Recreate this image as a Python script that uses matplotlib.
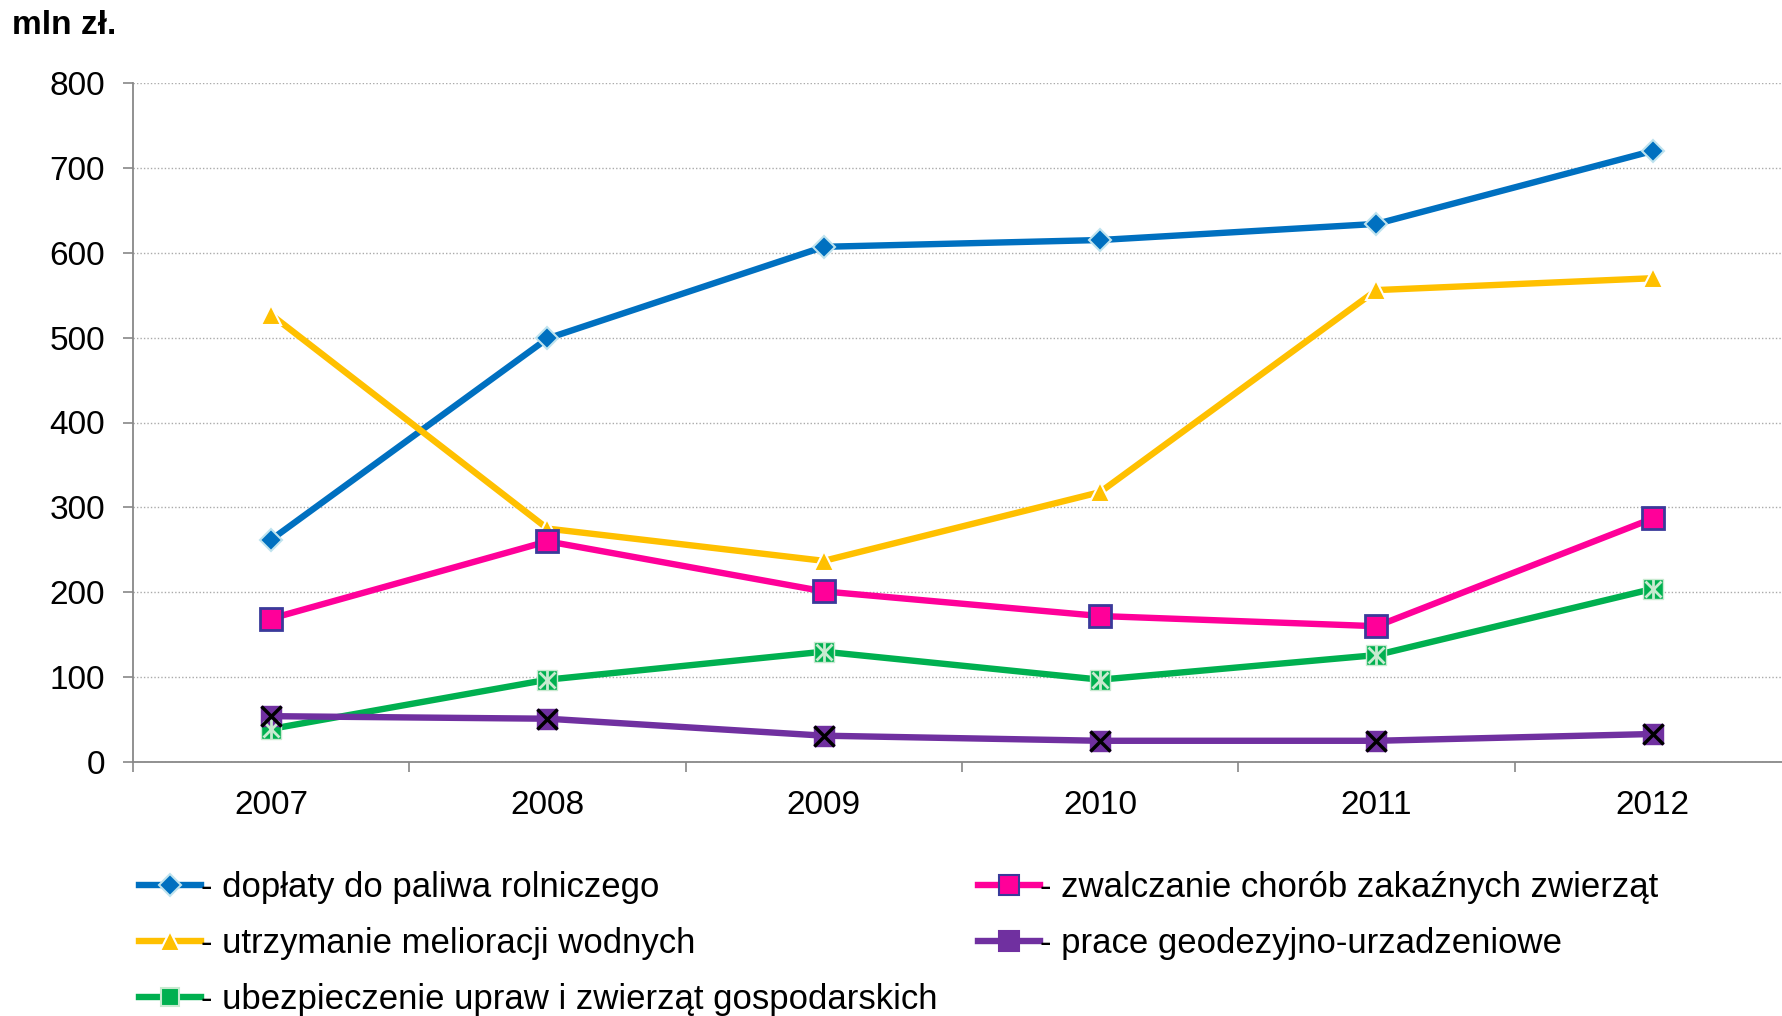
import numpy as np
import matplotlib
matplotlib.use("Agg")
import matplotlib.pyplot as plt
from matplotlib.lines import Line2D

years = ["2007", "2008", "2009", "2010", "2011", "2012"]
doplaty = [262, 499, 607, 615, 634, 720]
melioracje = [527, 275, 237, 318, 556, 570]
zwalczanie = [169, 260, 201, 172, 160, 287]
ubezpieczenie = [39, 97, 130, 97, 126, 204]
geodezyjne = [54, 51, 31, 25, 25, 33]

labels = ["- dopłaty do paliwa rolniczego",
          "- utrzymanie melioracji wodnych",
          "- ubezpieczenie upraw i zwierząt gospodarskich",
          "- zwalczanie chorób zakaźnych zwierząt",
          "- prace geodezyjno-urzadzeniowe"]
yticks = [0, 100, 200, 300, 400, 500, 600, 700, 800]

plt.rcParams['font.family'] = ['Liberation Sans', 'DejaVu Sans']

fig = plt.figure(figsize=(17.83, 10.16), dpi=100)
ax = fig.add_axes([133/1783, 1-762/1016, 1658/1783, 679/1016])

x = np.arange(len(years))
lw = 4.6

blue, yellow, pink, green, purple = "#0070C0", "#FFC000", "#FF0099", "#00B050", "#7030A0"

ax.plot(x, doplaty, color=blue, lw=lw, marker='D', ms=11, mfc=blue,
        mec="#BFE3EE", mew=1.5, zorder=5)
ax.plot(x, melioracje, color=yellow, lw=lw, marker='^', ms=14, mfc=yellow,
        mec="white", mew=1.5, zorder=5)
ax.plot(x, zwalczanie, color=pink, lw=lw, marker='s', ms=16, mfc=pink,
        mec="#3A3A9A", mew=2, zorder=5)
ax.plot(x, ubezpieczenie, color=green, lw=lw, marker='s', ms=15, mfc=green,
        mec="#C8EAD0", mew=1, zorder=5)
ax.plot(x, ubezpieczenie, lw=0, marker='x', ms=12, mec="#C8EAD0", mew=2, zorder=6)
ax.plot(x, ubezpieczenie, lw=0, marker='|', ms=15, mec="#C8EAD0", mew=2, zorder=6)
ax.plot(x, geodezyjne, color=purple, lw=lw, marker='s', ms=15, mfc=purple,
        mec=purple, mew=1, zorder=5)
ax.plot(x, geodezyjne, lw=0, marker='x', ms=15, mec="black", mew=2.5, zorder=6)

ax.set_xlim(-0.5, len(years) - 0.5)
ax.set_ylim(0, 800)
ax.set_yticks(yticks)
ax.set_yticklabels([str(v) for v in yticks])
ax.set_xticks(x)
ax.set_xticklabels(years)
ax.set_xticks(np.arange(len(years) + 1) - 0.5, minor=True)

ax.tick_params(axis='x', which='major', length=0, pad=20, labelsize=24)
ax.tick_params(axis='x', which='minor', length=7, width=1.2, color="#888888", direction='out')
ax.tick_params(axis='y', which='major', length=7, width=1.2, color="#888888",
               direction='out', pad=13, labelsize=24)

for s in ['top', 'right']:
    ax.spines[s].set_visible(False)
for s in ['left', 'bottom']:
    ax.spines[s].set_color("#888888")
    ax.spines[s].set_linewidth(1.3)

ax.yaxis.grid(True, linestyle=(0, (1, 1.5)), color="#AAAAAA", linewidth=1)
ax.set_axisbelow(True)

fig.text(12/1783, 1-26/1016, "mln zł.", fontsize=24, fontweight='bold', va='center', ha='left')

def handle(color, marker, ms, mfc, mec):
    return Line2D([], [], color=color, lw=lw, marker=marker, ms=ms, mfc=mfc, mec=mec, mew=1.5)

h_blue = handle(blue, 'D', 11, blue, "#BFE3EE")
h_yel = handle(yellow, '^', 14, yellow, "white")
h_green = handle(green, 's', 13, green, "#C8EAD0")
h_pink = handle(pink, 's', 14, pink, "#3A3A9A")
h_purple = handle(purple, 's', 14, purple, purple)

leg_kw = dict(frameon=False, fontsize=25, handlelength=1.8, handletextpad=0.0,
              labelspacing=0.66, borderpad=0, borderaxespad=0, loc='upper left')
fig.legend([h_blue, h_yel, h_green], labels[:3],
           bbox_to_anchor=(139/1783, 1-871/1016), **leg_kw)
fig.legend([h_pink, h_purple], labels[3:],
           bbox_to_anchor=(978/1783, 1-871/1016), **leg_kw)

fig.savefig("out.png", dpi=100)
